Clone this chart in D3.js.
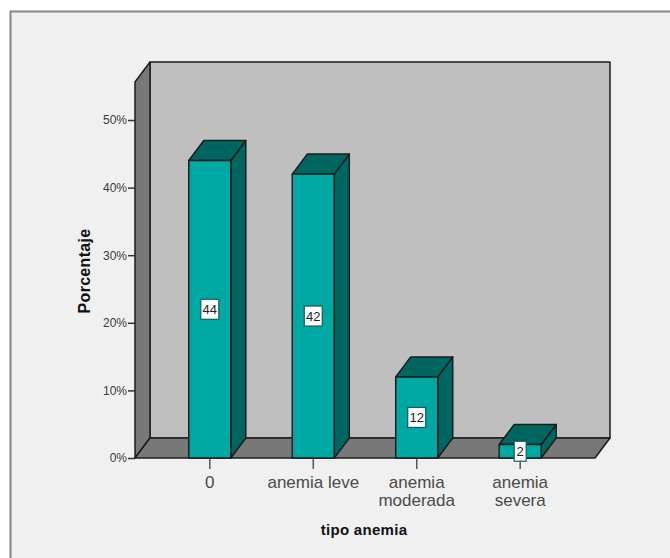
<!DOCTYPE html>
<html>
<head>
<meta charset="utf-8">
<script src="https://cdn.jsdelivr.net/npm/d3@7"></script>
<style>
  html, body { margin: 0; padding: 0; background: #fff; }
  svg { display: block; }
  text { font-family: "Liberation Sans", Arial, sans-serif; }
</style>
</head>
<body>
<script>
const categories = ['0', 'anemia leve', 'anemia moderada', 'anemia severa'];
const categoryLines = [['0'], ['anemia leve'], ['anemia', 'moderada'], ['anemia', 'severa']];
const percentages = [44, 42, 12, 2];
const yTicks = [0, 10, 20, 30, 40, 50];

const w = 670;
const h = 558;

// plot box of the front plane, plus the offset of the 3d depth
const left = 135;
const right = 595;
const bottom = 458;
const top3d = 82;
const depthX = 15;
const depthY = -20;

const wallColor = '#bfbfbf';
const sideColor = '#787878';
const barColor = '#00a8a3';
const barDark = '#006661';
const lineColor = '#1c1c1c';

const xScale = d3.scaleBand()
  .domain(categories)
  .range([left, right])
  .paddingInner(0.594)
  .paddingOuter(0.52);

const yScale = d3.scaleLinear()
  .domain([0, 50])
  .range([bottom, 120]);

const svg = d3.select('body')
  .append('svg')
  .attr('width', w)
  .attr('height', h);

// outer frame of the chart, runs off the right and bottom of the page
svg.append('rect')
  .attr('x', 10.5)
  .attr('y', 11.5)
  .attr('width', 680)
  .attr('height', 570)
  .attr('fill', '#f0f0f0')
  .attr('stroke', '#858585')
  .attr('stroke-width', 2);

const poly = (pts, fill) => svg.append('polygon')
  .attr('points', pts.map((p) => p.join(',')).join(' '))
  .attr('fill', fill)
  .attr('stroke', lineColor)
  .attr('stroke-width', 1.5)
  .attr('stroke-linejoin', 'round');

// back wall, left wall and floor
poly([[left + depthX, top3d + depthY], [right + depthX, top3d + depthY],
  [right + depthX, bottom + depthY], [left + depthX, bottom + depthY]], wallColor);
poly([[left, top3d], [left + depthX, top3d + depthY],
  [left + depthX, bottom + depthY], [left, bottom]], sideColor);
poly([[left, bottom], [left + depthX, bottom + depthY],
  [right + depthX, bottom + depthY], [right, bottom]], sideColor);

//y axis, drawn along the front edge of the left wall
const yAxis = d3.axisLeft(yScale)
  .tickValues(yTicks)
  .tickFormat((d) => d + '%')
  .tickSize(7)
  .tickSizeOuter(0);

const yGroup = svg.append('g')
  .attr('transform', `translate(${left}, 0)`)
  .call(yAxis);
yGroup.select('.domain').remove();
yGroup.selectAll('.tick line').attr('stroke', '#333').attr('stroke-width', 1.5);
yGroup.selectAll('.tick text')
  .attr('x', -8)
  .attr('font-size', 12)
  .attr('fill', '#3a3a3a');

//x axis ticks and wrapped category names
const xAxis = d3.axisBottom(xScale).tickSize(11).tickSizeOuter(0).tickFormat('');
const xGroup = svg.append('g')
  .attr('transform', `translate(0, ${bottom})`)
  .call(xAxis);
xGroup.select('.domain').remove();
xGroup.selectAll('.tick line').attr('stroke', '#555').attr('stroke-width', 1.5);

categories.forEach((c, i) => {
  const label = svg.append('text')
    .attr('text-anchor', 'middle')
    .attr('font-size', 17)
    .attr('fill', '#4a4a4a');
  categoryLines[i].forEach((line, j) => {
    label.append('tspan')
      .attr('x', xScale(c) + xScale.bandwidth() / 2)
      .attr('y', 488 + j * 18)
      .text(line);
  });
});

//one 3d bar for each category
categories.forEach((c, i) => {
  const v = percentages[i];
  const x0 = xScale(c);
  const x1 = x0 + xScale.bandwidth();
  const y0 = yScale(v);

  poly([[x1, y0], [x1 + depthX, y0 + depthY], [x1 + depthX, bottom + depthY], [x1, bottom]], barDark);
  poly([[x0, y0], [x0 + depthX, y0 + depthY], [x1 + depthX, y0 + depthY], [x1, y0]], barDark);
  poly([[x0, y0], [x1, y0], [x1, bottom], [x0, bottom]], barColor);
});

//value boxes in the middle of each bar
categories.forEach((c, i) => {
  const v = percentages[i];
  const cx = xScale(c) + xScale.bandwidth() / 2;
  const cy = yScale(v / 2);
  const boxW = v < 10 ? 12 : 18;

  svg.append('rect')
    .attr('x', cx - boxW / 2)
    .attr('y', cy - 10)
    .attr('width', boxW)
    .attr('height', 20)
    .attr('fill', '#fff')
    .attr('stroke', '#0d5f5c')
    .attr('stroke-width', 1.2);

  svg.append('text')
    .attr('x', cx)
    .attr('y', cy + 4.5)
    .attr('text-anchor', 'middle')
    .attr('font-size', 13)
    .attr('fill', '#222')
    .text(v);
});

//axis titles
svg.append('text')
  .attr('x', 364)
  .attr('y', 535)
  .attr('text-anchor', 'middle')
  .attr('font-size', 15)
  .attr('font-weight', 'bold')
  .attr('letter-spacing', 0.3)
  .attr('fill', '#111')
  .text('tipo anemia');

svg.append('text')
  .attr('transform', 'translate(90, 271) rotate(-90)')
  .attr('text-anchor', 'middle')
  .attr('font-size', 16)
  .attr('font-weight', 'bold')
  .attr('letter-spacing', 0.3)
  .attr('fill', '#111')
  .text('Porcentaje');
</script>
</body>
</html>
